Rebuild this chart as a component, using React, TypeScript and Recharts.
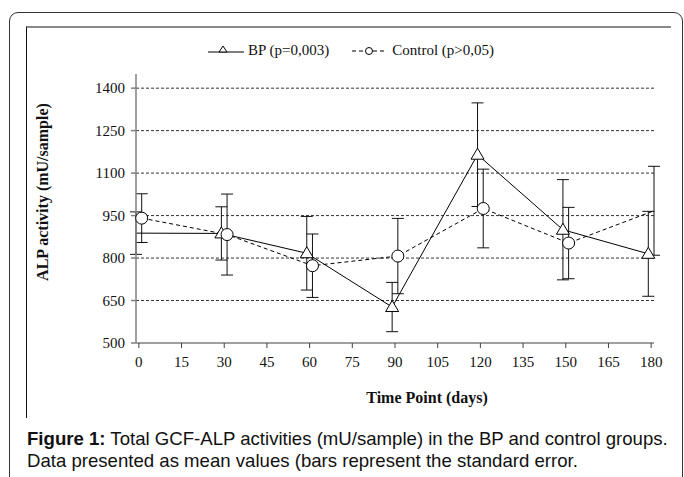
import { LineChart, Line, XAxis, YAxis, CartesianGrid, ErrorBar } from "recharts";

const days = [0, 30, 60, 90, 120, 150, 180];
const bpMean = [888, 887, 817, 627, 1165, 900, 815];
const bpSE = [75, 94, 130, 87, 183, 177, 150];
const controlMean = [941, 883, 773, 807, 975, 853, 967];
const controlSE = [86, 143, 112, 133, 139, 126, 157];

const xTicks = [0, 15, 30, 45, 60, 75, 90, 105, 120, 135, 150, 165, 180];
const yTicks = [500, 650, 800, 950, 1100, 1250, 1400];
const gridValues = yTicks.slice(1);

const bpLabel = "BP (p=0,003)";
const controlLabel = "Control (p>0,05)";

// the original sheet nudges the two groups a day apart so the bars don't sit on top of each other
const NUDGE = 1;

const bpData = days.map((d, i) => ({ x: d - NUDGE, y: bpMean[i], err: bpSE[i] }));
const controlData = days.map((d, i) => ({ x: d + NUDGE, y: controlMean[i], err: controlSE[i] }));

const serif = "'Liberation Serif', 'Times New Roman', serif";
const sans = "'Liberation Sans', Arial, sans-serif";

// markers past the axis ends are hidden, like in the source figure
const visible = (x: number) => x >= 0 && x <= 180;

function TriangleDot(props: any) {
  const { cx, cy, payload } = props;
  if (cx == null || !visible(payload.x)) return <g />;
  return (
    <polygon
      points={`${cx},${cy - 6.5} ${cx + 6.5},${cy + 4.5} ${cx - 6.5},${cy + 4.5}`}
      fill="#fff"
      stroke="#000"
      strokeWidth={1}
    />
  );
}

function CircleDot(props: any) {
  const { cx, cy, payload } = props;
  if (cx == null || !visible(payload.x)) return <g />;
  return <circle cx={cx} cy={cy} r={6} fill="#fff" stroke="#000" strokeWidth={1} />;
}

export default function App() {
  return (
    <div
      style={{
        position: "absolute",
        left: 0,
        top: 0,
        width: 684,
        height: 477,
        overflow: "hidden",
        background: "#fff",
      }}
    >
      {/* outer rounded frame */}
      <div
        style={{
          position: "absolute",
          left: 9,
          top: 12,
          width: 672,
          height: 520,
          border: "1.5px solid #333",
          borderRadius: 9,
        }}
      />
      {/* chart area frame (top + left only show) */}
      <div
        style={{
          position: "absolute",
          left: 26,
          top: 26,
          width: 644,
          height: 390,
          borderTop: "2px solid #8a8a8a",
          borderLeft: "1px solid #111",
        }}
      />

      <LineChart
        width={684}
        height={477}
        style={{ position: "absolute", left: 0, top: 0 }}
        margin={{ top: 74, right: 30, bottom: 104, left: 80 }}
      >
        <CartesianGrid
          vertical={false}
          horizontalValues={gridValues}
          stroke="#333"
          strokeDasharray="3 2"
        />
        <XAxis
          type="number"
          dataKey="x"
          domain={[-1, 181]}
          ticks={xTicks}
          interval={0}
          height={30}
          tickSize={5}
          tickMargin={8}
          stroke="#404040"
          tick={{ fill: "#111", fontSize: 15, fontFamily: serif }}
        />
        <YAxis
          type="number"
          dataKey="y"
          domain={[500, 1450]}
          ticks={yTicks}
          interval={0}
          width={56}
          tickSize={5}
          tickMargin={6}
          stroke="#808080"
          strokeWidth={1.5}
          tick={{ fill: "#111", fontSize: 15, fontFamily: serif }}
        />
        <Line
          data={bpData}
          dataKey="y"
          stroke="#000"
          strokeWidth={1}
          dot={<TriangleDot />}
          activeDot={false}
          isAnimationActive={false}
        >
          <ErrorBar dataKey="err" direction="y" width={6} stroke="#111" strokeWidth={1} />
        </Line>
        <Line
          data={controlData}
          dataKey="y"
          stroke="#000"
          strokeWidth={1}
          strokeDasharray="4 3"
          dot={<CircleDot />}
          activeDot={false}
          isAnimationActive={false}
        >
          <ErrorBar dataKey="err" direction="y" width={6} stroke="#111" strokeWidth={1} />
        </Line>
      </LineChart>

      {/* legend */}
      <div
        style={{
          position: "absolute",
          top: 41,
          left: 208,
          display: "flex",
          alignItems: "center",
          fontFamily: serif,
          fontSize: 15,
          lineHeight: "18px",
          color: "#111",
          whiteSpace: "nowrap",
        }}
      >
        <svg width={36} height={14}>
          <line x1={0} y1={9} x2={36} y2={9} stroke="#000" strokeWidth={1} />
          <polygon points="11,9 19,9 15,3" fill="#fff" stroke="#000" strokeWidth={1} />
        </svg>
        <span style={{ marginLeft: 4 }}>{bpLabel}</span>
        <svg width={33} height={14} style={{ marginLeft: 23 }}>
          <line x1={0} y1={8} x2={33} y2={8} stroke="#000" strokeWidth={1} strokeDasharray="4 3" />
          <circle cx={17} cy={8} r={3.5} fill="#fff" stroke="#000" strokeWidth={1} />
        </svg>
        <span style={{ marginLeft: 7 }}>{controlLabel}</span>
      </div>

      {/* axis titles */}
      <div
        style={{
          position: "absolute",
          left: -77,
          top: 182,
          width: 240,
          height: 20,
          lineHeight: "20px",
          textAlign: "center",
          transform: "rotate(-90deg)",
          fontFamily: serif,
          fontWeight: "bold",
          fontSize: 16,
          color: "#111",
          whiteSpace: "nowrap",
        }}
      >
        ALP activity (mU/sample)
      </div>
      <div
        style={{
          position: "absolute",
          left: 327,
          top: 389,
          width: 200,
          textAlign: "center",
          fontFamily: serif,
          fontWeight: "bold",
          fontSize: 16,
          color: "#111",
          whiteSpace: "nowrap",
        }}
      >
        Time Point (days)
      </div>

      {/* caption */}
      <div
        style={{
          position: "absolute",
          left: 27,
          top: 428,
          fontFamily: sans,
          fontSize: 18.6,
          lineHeight: "22px",
          color: "#111",
          whiteSpace: "nowrap",
        }}
      >
        <div>
          <b>Figure 1:</b> Total GCF-ALP activities (mU/sample) in the BP and control groups.
        </div>
        <div>Data presented as mean values (bars represent the standard error.</div>
      </div>
    </div>
  );
}
